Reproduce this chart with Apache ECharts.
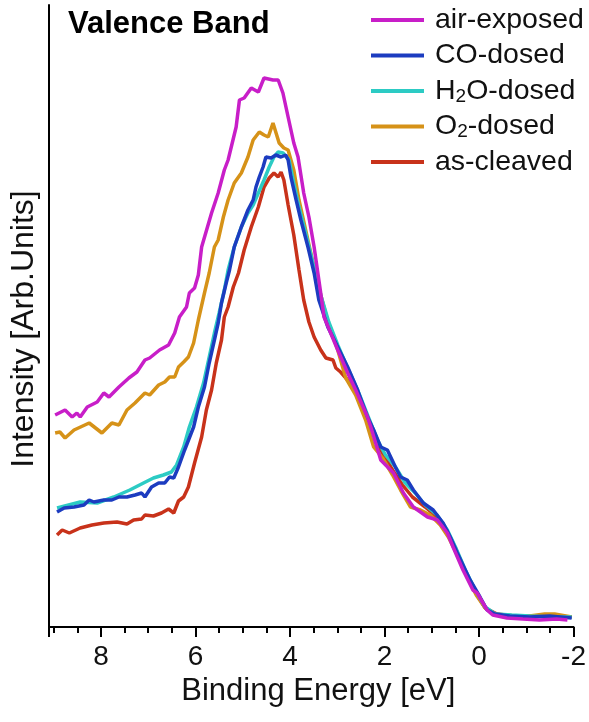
<!DOCTYPE html>
<html>
<head>
<meta charset="utf-8">
<script src="https://cdn.jsdelivr.net/npm/echarts@6/dist/echarts.min.js"></script>
<style>
  html, body { margin: 0; padding: 0; background: #fff; }
  #chart { width: 589px; height: 722px; }
</style>
</head>
<body>
<div id="chart"></div>
<script>
// binding energy [eV], intensity [arb. units]
var airExposed = [
  [8.97,212],[8.76,217],[8.61,210],[8.51,214],[8.44,210],[8.29,220],[8.08,225],[7.94,234],[7.83,230],
  [7.62,240],[7.41,249],[7.24,255],[7.07,267],[6.97,269],[6.76,277],[6.57,282],[6.44,294],[6.34,310],
  [6.19,320],[6.13,334],[6.02,339],[5.94,352],[5.87,380],[5.66,414],[5.52,434],[5.39,457],[5.31,467],
  [5.14,500],[5.07,527],[4.97,529],[4.82,539],[4.67,535],[4.55,549],[4.36,547],[4.25,547],[4.15,534],
  [4.04,510],[3.92,484],[3.83,470],[3.71,434],[3.60,410],[3.49,380],[3.35,334],[3.28,310],[3.14,294],
  [2.99,277],[2.78,254],[2.61,237],[2.36,210],[2.29,200],[2.08,167],[1.81,154],[1.60,134],[1.39,120],
  [1.09,110],[0.88,107],[0.67,94],[0.55,80],[0.34,57],[0.13,37],[0.04,34],[-0.17,17],[-0.29,12],
  [-0.59,9],[-0.93,8],[-1.28,7],[-1.64,8],[-1.87,7]
];
var coDosed = [
  [8.93,115],[8.78,119],[8.57,120],[8.36,122],[8.25,127],[8.15,125],[7.94,127],[7.77,127],[7.62,130],
  [7.45,130],[7.28,132],[7.14,134],[7.07,130],[6.93,140],[6.78,144],[6.65,144],[6.55,150],[6.46,149],
  [6.36,160],[6.23,177],[6.04,200],[5.94,220],[5.81,240],[5.71,264],[5.60,287],[5.52,304],[5.45,324],
  [5.35,344],[5.28,357],[5.18,380],[5.03,400],[4.89,417],[4.78,427],[4.72,440],[4.65,450],[4.57,460],
  [4.51,470],[4.40,469],[4.30,472],[4.19,470],[4.09,472],[4.04,467],[3.98,450],[3.87,427],[3.77,407],
  [3.62,380],[3.49,354],[3.39,327],[3.20,300],[2.99,280],[2.78,260],[2.57,237],[2.36,210],[2.23,197],
  [2.08,180],[1.94,177],[1.77,160],[1.66,150],[1.52,147],[1.39,137],[1.18,124],[0.97,117],[0.76,104],
  [0.61,90],[0.46,74],[0.19,47],[-0.02,30],[-0.17,17],[-0.34,13],[-0.65,11],[-1.07,10],[-1.49,11],[-1.96,9]
];
var h2oDosed = [
  [8.93,119],[8.44,125],[8.08,124],[7.73,130],[7.39,137],[7.10,144],[6.89,149],[6.68,152],[6.51,155],
  [6.40,162],[6.25,180],[6.13,200],[5.98,220],[5.83,244],[5.71,270],[5.60,294],[5.50,314],[5.39,337],
  [5.31,357],[5.18,380],[5.03,400],[4.89,414],[4.78,422],[4.67,434],[4.55,447],[4.44,460],[4.34,470],
  [4.25,475],[4.15,474],[4.02,467],[3.92,444],[3.81,420],[3.66,392],[3.49,359],[3.35,332],[3.18,305],
  [2.99,282],[2.78,259],[2.57,237],[2.36,212],[2.15,187],[1.98,172],[1.77,160],[1.56,144],[1.35,134],
  [1.14,122],[0.89,112],[0.67,97],[0.50,80],[0.29,57],[0.08,37],[-0.13,20],[-0.34,13],[-0.69,12],
  [-1.07,11],[-1.49,10],[-1.96,10]
];
var o2Dosed = [
  [8.97,194],[8.87,195],[8.76,189],[8.57,197],[8.25,204],[7.98,194],[7.77,204],[7.62,202],[7.45,217],
  [7.28,224],[7.07,234],[6.97,232],[6.78,242],[6.65,245],[6.55,250],[6.44,250],[6.36,260],[6.25,265],
  [6.15,270],[6.04,284],[5.94,307],[5.81,334],[5.71,354],[5.60,380],[5.52,387],[5.41,410],[5.31,427],
  [5.18,444],[5.03,454],[4.89,470],[4.78,487],[4.65,495],[4.55,492],[4.46,490],[4.36,504],[4.23,484],
  [4.13,479],[4.04,477],[3.92,457],[3.81,427],[3.66,395],[3.49,359],[3.35,332],[3.18,302],[2.99,277],
  [2.82,249],[2.61,232],[2.40,207],[2.23,180],[2.04,169],[1.83,152],[1.66,137],[1.45,120],[1.24,117],
  [1.03,112],[0.82,102],[0.65,90],[0.48,74],[0.27,52],[0.06,32],[-0.13,19],[-0.34,13],[-0.65,11],
  [-1.07,11],[-1.39,13],[-1.60,13],[-1.96,10]
];
var asCleaved = [
  [8.93,92],[8.82,97],[8.67,94],[8.44,99],[8.19,102],[7.94,104],[7.66,105],[7.45,103],[7.31,107],
  [7.14,108],[7.07,112],[6.89,111],[6.72,114],[6.57,118],[6.46,114],[6.36,126],[6.25,130],[6.15,140],
  [6.02,164],[5.87,190],[5.77,217],[5.66,237],[5.56,264],[5.45,287],[5.39,310],[5.31,320],[5.20,340],
  [5.09,354],[4.97,377],[4.82,400],[4.67,420],[4.55,440],[4.44,449],[4.34,454],[4.25,450],[4.19,455],
  [4.13,447],[4.04,422],[3.92,392],[3.81,357],[3.71,327],[3.60,305],[3.49,290],[3.35,277],[3.24,269],
  [3.09,267],[3.03,259],[2.93,255],[2.78,247],[2.65,237],[2.51,224],[2.29,199],[2.08,177],[1.83,157],
  [1.62,142],[1.41,130],[1.14,120],[0.89,110],[0.67,95],[0.50,79],[0.29,55],[0.08,35],[-0.13,19],
  [-0.38,13],[-0.76,11],[-1.28,11],[-1.96,10]
];

var legendNames = ['air-exposed', 'CO-dosed', 'H2O-dosed', 'O2-dosed', 'as-cleaved'];
var xTicks = { min: -2, max: 9.1, step: 2 };

var font = "'Liberation Sans', Arial, sans-serif";
var chart = echarts.init(document.getElementById('chart'));

function mkSeries(name, data, color) {
  return {
    name: name, type: 'line', data: data, symbol: 'none', smooth: false,
    lineStyle: { width: 3.5, color: color }, itemStyle: { color: color }
  };
}

var option = {
  animation: false,
  title: {
    text: 'Valence Band', left: 63, top: 4,
    textStyle: { fontFamily: font, fontSize: 31, fontWeight: 'bold', color: '#000' }
  },
  legend: {
    data: legendNames, orient: 'vertical', left: 366, top: 0,
    icon: 'rect', itemWidth: 53, itemHeight: 4, itemGap: 5.5,
    textStyle: {
      fontFamily: font, fontSize: 28.5, color: '#111', lineHeight: 30, padding: [0, 0, 0, 6],
      rich: { s: { fontFamily: font, fontSize: 19, lineHeight: 14, verticalAlign: 'bottom', color: '#111' } }
    },
    formatter: function (n) {
      return n.replace('H2O', 'H{s|2}O').replace('O2-', 'O{s|2}-');
    }
  },
  grid: { left: 47, right: 15, top: 5, bottom: 95, containLabel: false },
  xAxis: {
    type: 'value', inverse: true, min: xTicks.min, max: xTicks.max, interval: xTicks.step,
    name: 'Binding Energy [eV]', nameLocation: 'middle', nameGap: 49,
    nameTextStyle: { fontFamily: font, fontSize: 31, color: '#111', padding: [0, 0, 0, 14] },
    axisLine: { show: true, onZero: false, lineStyle: { color: '#000', width: 2 } },
    axisTick: { show: true, inside: false, length: 10, lineStyle: { color: '#000', width: 2 } },
    minorTick: { show: true, splitNumber: 4, length: 6, lineStyle: { color: '#000', width: 2 } },
    axisLabel: { fontFamily: font, fontSize: 28, color: '#111', margin: 16, showMaxLabel: false },
    splitLine: { show: false }
  },
  yAxis: {
    type: 'value', min: 0, max: 622,
    name: 'Intensity [Arb.Units]', nameLocation: 'middle', nameGap: 9,
    nameTextStyle: { fontFamily: font, fontSize: 32, color: '#111', padding: [0, 26, 0, 0] },
    axisLine: { show: true, onZero: false, lineStyle: { color: '#000', width: 2 } },
    axisTick: { show: false }, axisLabel: { show: false }, splitLine: { show: false }
  },
  series: [
    mkSeries('as-cleaved', asCleaved, '#c8321a'),
    mkSeries('O2-dosed', o2Dosed, '#d69218'),
    mkSeries('H2O-dosed', h2oDosed, '#2ccbc4'),
    mkSeries('CO-dosed', coDosed, '#1c3cc0'),
    mkSeries('air-exposed', airExposed, '#c81ec8')
  ]
};
chart.setOption(option);
</script>
</body>
</html>
